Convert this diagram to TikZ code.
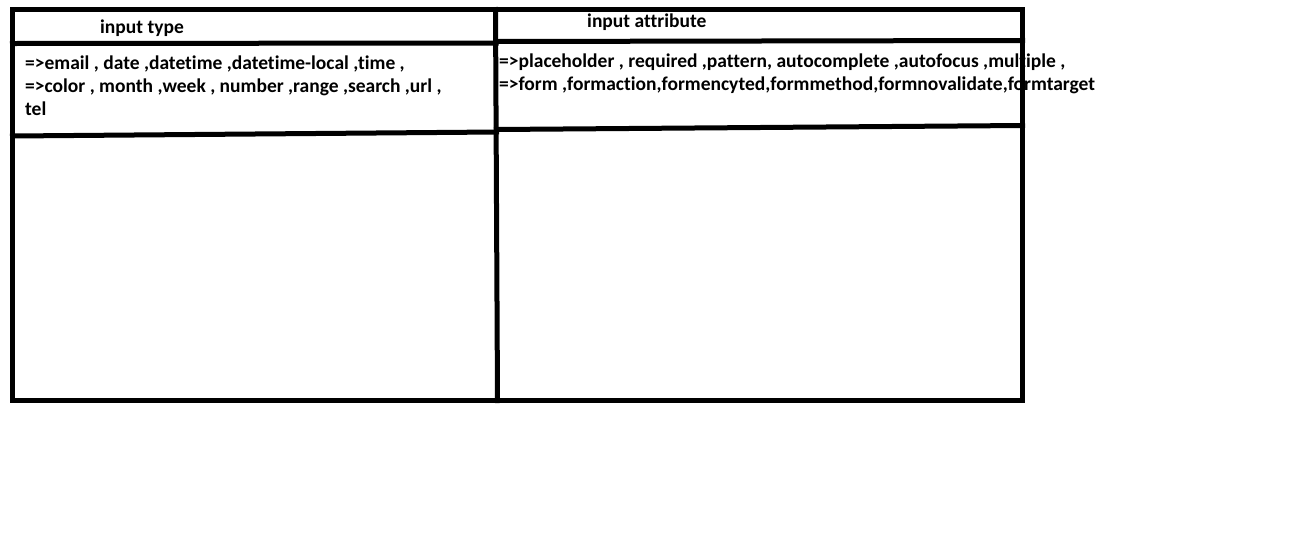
\documentclass[tikz,border=0pt]{standalone}
\usepackage{fontspec}
\setmainfont{Carlito}[Ligatures=NoCommon]
\begin{document}
\begin{tikzpicture}[x=1pt,y=-1pt,
  rule/.style={line width=5pt,line cap=rect},
  txt/.style={anchor=base west,inner sep=0pt,font=\fontsize{19.5}{22}\selectfont\bfseries}]
\useasboundingbox[fill=white] (0,0) rectangle (1316,547);
% text
\node[txt] (h1) at (100,33) {input type};
\node[txt] (h2) at (587,27) {input attribute};
\node[txt] (l1) at (25,69) {=>email , date ,datetime ,datetime-local ,time ,};
\node[txt] (l2) at (25,92) {=>color , month ,week , number ,range ,search ,url ,};
\node[txt] (l3) at (25,115) {tel};
\node[txt] (r1) at (499,67) {=>placeholder , required ,pattern, autocomplete ,autofocus ,multiple ,};
\node[txt] (r2) at (499,90) {=>form ,formaction,formencyted,formmethod,formnovalidate,formtarget};
% table rules
\coordinate (tl) at (12.5,9.5);
\coordinate (tm) at (495.5,9.5);
\coordinate (tr) at (1022.5,9.5);
\coordinate (bl) at (12.5,400.5);
\coordinate (bm) at (497.5,400.5);
\coordinate (br) at (1022.5,400.5);
\draw[rule] (tl) -- (tr) -- (br) -- (bl) -- cycle;
\draw[rule] (tm) -- (bm);
\coordinate (a1) at (12.5,43.5);
\coordinate (a2) at (496,43);
\coordinate (a3) at (496,41.5);
\coordinate (a4) at (1022.5,40.5);
\draw[rule] (a1) -- (a2);
\draw[rule] (a3) -- (a4);
\coordinate (b1) at (12.5,136);
\coordinate (b2) at (496.5,132);
\coordinate (b3) at (496.5,129.5);
\coordinate (b4) at (1022.5,125.5);
\draw[rule] (b1) -- (b2);
\draw[rule] (b3) -- (b4);
\end{tikzpicture}
\end{document}
